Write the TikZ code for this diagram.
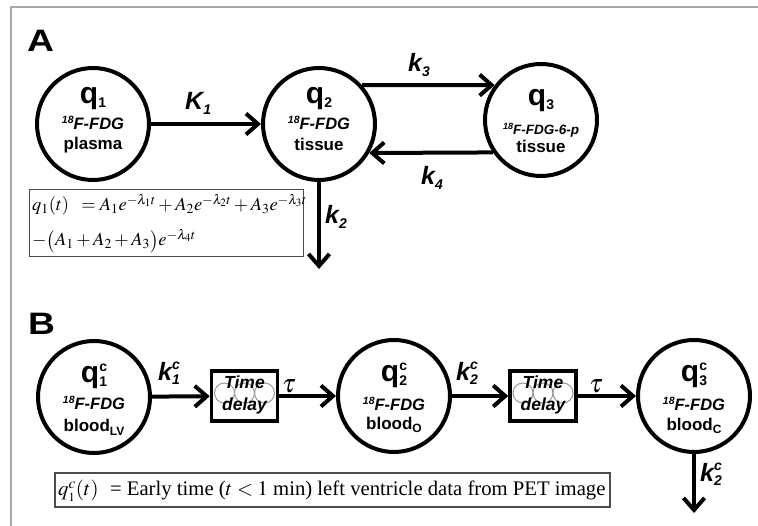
\documentclass[tikz,border=0pt]{standalone}
\usepackage{mathptmx}
\usepackage{fontspec}
\setmainfont{Liberation Serif}
\setsansfont{Liberation Sans}
\newfontfamily\widesans[FakeStretch=1.2]{Liberation Sans}
\usetikzlibrary{arrows.meta}

% font shortcuts (sizes in pt; 1pt of the picture = one unit)
\newcommand\fsz[1]{\fontsize{#1}{#1}\selectfont}
\newcommand\panelfont{\widesans\bfseries\fsz{31}}
\newcommand\qfont{\sffamily\bfseries\fsz{30}}
\newcommand\tracerfont{\sffamily\bfseries\itshape\fsz{16.5}}
\newcommand\sitefont{\sffamily\bfseries\fsz{17}}
\newcommand\ratefont{\sffamily\bfseries\itshape\fsz{25}}
\newcommand\delayfont{\sffamily\bfseries\itshape\fsz{17.5}}
% lowered / raised scripts for the bold sans labels
\newcommand\lowsub[2]{\raisebox{-#1}{\fsz{14}#2}}
\newcommand\supsub[3]{\rlap{\raisebox{#1}{\fsz{14}#2}}\raisebox{-4pt}{\fsz{14}#3}}
\newcommand\FDG{\raisebox{6pt}{\fsz{10.5}18}F-FDG}

\tikzset{
  comp/.style={circle, draw, line width=4pt, minimum size=112pt, inner sep=0pt, outer sep=2pt},
  flow/.style={line width=4pt, -{Straight Barb[length=12pt,width=21pt]}},
  delaybox/.style={draw, line width=3.5pt, minimum width=66pt, minimum height=50pt, inner sep=0pt, outer sep=1.75pt},
  eqbox/.style={draw=black!70, line width=1.5pt, inner sep=0pt},
  lbl/.style={inner sep=0pt, anchor=base},
  lblw/.style={inner sep=0pt, anchor=base west},
  coil/.style={draw=black!40, line width=1pt},
}

\begin{document}
\begin{tikzpicture}[x=1pt, y=-1pt]
\useasboundingbox (0,0) rectangle (758,526);
% outer frame
\draw[black!35, line width=2pt] (11,526) -- (11,7) -- (758,7);

% ---------------- panel A ----------------
\node[lblw, font=\panelfont] (labA) at (27,52) {A};

\node[comp] (q1) at (93,124) {};
\node[comp] (q2) at (319,124) {};
\node[comp] (q3) at (541,120) {};

\node[lbl, font=\qfont] (q1n) at (93,104) {q\lowsub{4pt}{1}};
\node[lbl, font=\tracerfont] (q1t) at (93,130) {\FDG};
\node[lbl, font=\sitefont] (q1s) at (93,150) {plasma};

\node[lbl, font=\qfont] (q2n) at (319,104) {q\lowsub{4pt}{2}};
\node[lbl, font=\tracerfont] (q2t) at (319,130) {\FDG};
\node[lbl, font=\sitefont] (q2s) at (319,151) {tissue};

\node[lbl, font=\qfont] (q3n) at (541,106) {q\lowsub{4pt}{3}};
\node[lbl, font=\sffamily\bfseries\itshape\fsz{13.5}] (q3t) at (541,135) {\raisebox{5pt}{\fsz{9}18}F-FDG-6-p};
\node[lbl, font=\sitefont] (q3s) at (541,153) {tissue};

\draw[flow] (q1) -- (q2);
\draw[flow] (q2.42) -- (q3.143);
\draw[flow] (q3.214.7) -- (q2.-30);
\coordinate (outA) at (319,269);
\draw[flow] (q2.south) -- (outA);

\node[lblw, font=\ratefont] (K1) at (185,110) {K\lowsub{5pt}{1}};
\node[lblw, font=\ratefont] (k3) at (408,72) {k\lowsub{5pt}{3}};
\node[lblw, font=\ratefont] (k4) at (421,185) {k\lowsub{5pt}{4}};
\node[lblw, font=\ratefont] (k2) at (325,224) {k\lowsub{5pt}{2}};

\node[eqbox, minimum width=274pt, minimum height=67pt] (eqA) at (166.5,223) {};
\node[lblw, font=\fsz{18.5}] (eqA1) at (32,211)
  {$q_1(t)\;\;= A_1e^{-\lambda_1 t} + A_2e^{-\lambda_2 t} + A_3e^{-\lambda_3 t}$};
\node[lblw, font=\fsz{18.5}] (eqA2) at (32,246)
  {$-\bigl(A_1 + A_2 + A_3\bigr)e^{-\lambda_4 t}$};

% ---------------- panel B ----------------
\node[lblw, font=\panelfont] (labB) at (28,335) {B};

\node[comp] (c1) at (94,397) {};
\node[delaybox] (d1) at (244.5,396) {};
\node[comp] (c2) at (394,396) {};
\node[delaybox] (d2) at (543,396) {};
\node[comp] (c3) at (694,396) {};

% coil symbols inside the delay boxes
\foreach \b in {d1,d2}{
  \foreach \dx in {-20,0,20}
    \draw[coil] ([xshift=\dx pt, yshift=3pt]\b.center) circle (10pt);
}
\node[lbl, font=\delayfont] (d1a) at (244.5,389) {Time};
\node[lbl, font=\delayfont] (d1b) at (244.5,411) {delay};
\node[lbl, font=\delayfont] (d2a) at (543,389) {Time};
\node[lbl, font=\delayfont] (d2b) at (543,411) {delay};

\node[lbl, font=\qfont] (c1n) at (94,383) {q\supsub{11pt}{c}{1}};
\node[lbl, font=\tracerfont] (c1t) at (94,410) {\FDG};
\node[lbl, font=\sitefont] (c1s) at (94,432) {blood\lowsub{3pt}{\fsz{12}LV}};

\node[lbl, font=\qfont] (c2n) at (394,382) {q\supsub{11pt}{c}{2}};
\node[lbl, font=\tracerfont] (c2t) at (394,411) {\FDG};
\node[lbl, font=\sitefont] (c2s) at (394,430) {blood\lowsub{3pt}{\fsz{12}O}};

\node[lbl, font=\qfont] (c3n) at (694,382) {q\supsub{11pt}{c}{3}};
\node[lbl, font=\tracerfont] (c3t) at (694,411) {\FDG};
\node[lbl, font=\sitefont] (c3s) at (694,431) {blood\lowsub{3pt}{\fsz{12}C}};

\draw[flow] (c1) -- (d1);
\draw[flow] (d1) -- (c2);
\draw[flow] (c2) -- (d2);
\draw[flow] (d2) -- (c3);
\coordinate (outB) at (694,513);
\draw[flow] (c3.south) -- (outB);

\node[lblw, font=\ratefont] (kc1) at (158,381) {k\supsub{11pt}{c}{1}};
\node[lblw, font=\ratefont] (kc2) at (456,381) {k\supsub{11pt}{c}{2}};
\node[lblw, font=\ratefont] (kc2b) at (700,482) {k\supsub{11pt}{c}{2}};
\node[lblw, font=\fsz{26}] (tau1) at (282,393) {$\tau$};
\node[lblw, font=\fsz{26}] (tau2) at (589,393) {$\tau$};

\node[eqbox, minimum width=555pt, minimum height=34pt] (eqB) at (332.5,490) {};
\node[lblw, font=\fsz{20.7}] (eqB1) at (58,496)
  {$q^{c}_{\scriptscriptstyle 1}(t)$\;\;= Early time ($t<1$ min) left ventricle data from PET image};
\end{tikzpicture}
\end{document}
